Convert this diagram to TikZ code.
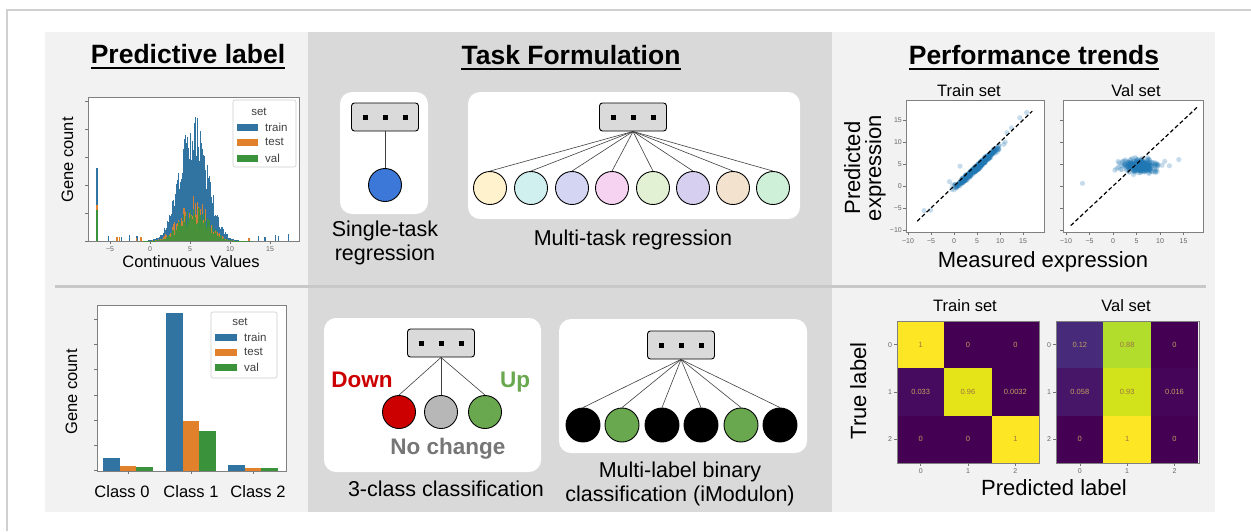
\documentclass[tikz,border=0pt]{standalone}
\usepackage{fontspec}
\setmainfont{Liberation Sans}
\usepackage{tikz}
\usetikzlibrary{positioning, calc}
\definecolor{framegray}{HTML}{D0D0D0}
\definecolor{panelgray}{HTML}{F2F2F2}
\definecolor{midgray}{HTML}{D9D9D9}
\definecolor{sepgray}{HTML}{C8C8C8}
\definecolor{boxgray}{HTML}{DADADA}
\definecolor{histblue}{HTML}{3274A1}
\definecolor{historange}{HTML}{E1812C}
\definecolor{histgreen}{HTML}{3A923A}
\definecolor{scatblue}{HTML}{1F77B4}
\definecolor{singleblue}{HTML}{3C78D8}
\definecolor{downred}{HTML}{CC0000}
\definecolor{samegray}{HTML}{B7B7B7}
\definecolor{sametext}{HTML}{767676}
\definecolor{upgreen}{HTML}{6AA84F}
\definecolor{mtA}{HTML}{FFF2CC}
\definecolor{mtB}{HTML}{D0F0EF}
\definecolor{mtC}{HTML}{D3D5F2}
\definecolor{mtD}{HTML}{F6D3F0}
\definecolor{mtE}{HTML}{E2F0D4}
\definecolor{mtF}{HTML}{D7CFF0}
\definecolor{mtG}{HTML}{F2E2CE}
\definecolor{mtH}{HTML}{CFF0D8}
\definecolor{vir0}{HTML}{440154}
\definecolor{vir016}{HTML}{450559}
\definecolor{vir033}{HTML}{460B5E}
\definecolor{vir058}{HTML}{481668}
\definecolor{vir12}{HTML}{472A7A}
\definecolor{vir88}{HTML}{B2DD2D}
\definecolor{vir93}{HTML}{D2E21B}
\definecolor{vir96}{HTML}{E4E419}
\definecolor{vir100}{HTML}{FDE725}
\definecolor{cmtext}{HTML}{C0A060}
\definecolor{cmtextdark}{HTML}{9A7442}
\tikzset{
  paneltitle/.style={font=\fontsize{26.5}{30}\selectfont\bfseries, inner sep=0pt, anchor=base},
  axislabel/.style={font=\fontsize{16.5}{19}\selectfont, inner sep=0pt, anchor=base},
  biglabel/.style={font=\fontsize{22}{21}\selectfont, inner sep=0pt, anchor=base, align=center},
  tasklabel/.style={font=\fontsize{21.5}{24}\selectfont, inner sep=0pt, align=center},
  classword/.style={font=\fontsize{22.5}{25}\selectfont\bfseries, inner sep=0pt, anchor=base},
  ticklabel/.style={font=\fontsize{7}{8}\selectfont, text=black!60, inner sep=0pt},
  tickmark/.style={draw=black!55, line width=0.6pt},
  plotframe/.style={draw=black!50, line width=0.8pt, fill=white},
  legendbox/.style={draw=black!20, fill=white, fill opacity=0.8, rounded corners=2pt, line width=0.6pt},
  legendtext/.style={font=\fontsize{11.5}{13}\selectfont, text=black!75, inner sep=0pt, anchor=west},
  taskcard/.style={fill=white, rounded corners=12pt},
  dotsbox/.style={draw=black, line width=0.9pt, fill=boxgray, rounded corners=3pt,
                  minimum width=67pt, minimum height=28pt, inner sep=0pt},
  outnode/.style={circle, draw=black, line width=0.9pt, minimum size=33pt, inner sep=0pt},
  link/.style={draw=black!75, line width=0.6pt},
  cmcell/.style={minimum size=47.4pt, inner sep=0pt, font=\fontsize{7.5}{8}\selectfont},
  dot/.style={fill=scatblue, fill opacity=0.25},
}
\newcommand{\threedots}{\rule{5pt}{5pt}\hspace{15pt}\rule{5pt}{5pt}\hspace{15pt}\rule{5pt}{5pt}}

\begin{document}
\begin{tikzpicture}[x=1pt, y=-1pt]
\useasboundingbox (0,0) rectangle (1251,531);
\draw[framegray, line width=2pt] (7,531) -- (7,10) -- (1251,10);
\fill[panelgray] (45,32) rectangle (1215,512);
\fill[midgray] (308,32) rectangle (832,512);
\draw[sepgray, line width=3pt] (55,286) -- (1206,286);

% panel titles
\node[paneltitle] (t1) at (188,63) {Predictive label};
\node[paneltitle] (t2) at (571,64) {Task Formulation};
\node[paneltitle] (t3) at (1034,64) {Performance trends};
\foreach \t in {t1,t2,t3}
  \draw[line width=2.2pt] ([yshift=-5pt]\t.base west) -- ([yshift=-5pt]\t.base east);

% histogram of continuous values
\draw[plotframe] (88,97) rectangle (299,241);
\begin{scope}
\clip (88,97) rectangle (299,241);
\pgfmathsetseed{7}
\foreach \i in {0,...,111}{
  \pgfmathsetmacro{\xv}{-1+0.125*\i}
  \pgfmathsetmacro{\hb}{112*exp(-(\xv-5.4)*(\xv-5.4)/6)*(0.7+0.45*rnd)}
  \fill[histblue] ({150+8*\xv},241) rectangle ++(1.1,-\hb);
}
\foreach \i in {0,...,111}{
  \pgfmathsetmacro{\xv}{-1+0.125*\i}
  \pgfmathsetmacro{\ho}{42*exp(-(\xv-5.3)*(\xv-5.3)/6)*(0.3+0.9*rnd)}
  \fill[historange, opacity=0.9] ({150+8*\xv},241) rectangle ++(1.1,-\ho);
}
\foreach \i in {0,...,111}{
  \pgfmathsetmacro{\xv}{-1+0.125*\i}
  \pgfmathsetmacro{\hg}{32*exp(-(\xv-5.5)*(\xv-5.5)/6)*(0.5+0.7*rnd)}
  \fill[histgreen, opacity=0.9] ({150+8*\xv},241) rectangle ++(1.1,-\hg);
}
\foreach \xv/\hb in {-5.3/5, -3.6/4, -2.6/6, -1.7/5, 13.5/5, 14.3/4, 15.6/6, 16/5, 17.2/7}
  \fill[histblue] ({150+8*\xv},241) rectangle ++(1.2,-\hb);
\foreach \xv/\ho in {-4.2/4, -3.9/4, -1.8/3, -1.2/4, 12.3/3}
  \fill[historange] ({150+8*\xv},241) rectangle ++(1.2,-\ho);
\fill[histblue] (96,241) rectangle ++(2,-73);
\fill[historange] (96,241) rectangle ++(2,-36);
\fill[histgreen] (96,241) rectangle ++(2,-31);
\end{scope}
\foreach \y in {101,129,157,185,213,241}
  \draw[tickmark] (88,\y) -- ++(-3,0);
\foreach \v/\s [count=\n] in {-5/−5, 0/0, 5/5, 10/10, 15/15}{
  \draw[tickmark] ({150+8*\v},241) -- ++(0,3);
  \node[ticklabel] (hx\n) at ({150+8*\v},249) {\s};
}
\draw[legendbox] (233,100) rectangle (296,167);
\node[legendtext, anchor=center] (hset) at (259,112) {set};
\foreach \y/\col/\s in {127/histblue/train, 142/historange/test, 158/histgreen/val}{
  \fill[\col] (237,{\y-3.5}) rectangle (258,{\y+3.5});
  \node[legendtext] (h\s) at (265,\y) {\s};
}
\node[axislabel, rotate=90] (hy) at (73,160) {Gene count};
\node[axislabel] (hxlab) at (191,267) {Continuous Values};

% class counts
\draw[plotframe] (97,305) rectangle (286,471);
\foreach \cx/\hb/\ho/\hg in {128/458/466/467, 191/313/421/431, 253/465/468/468}{
  \fill[histblue] ({\cx-25},471) rectangle ({\cx-8.3},\hb);
  \fill[historange] ({\cx-8.3},471) rectangle ({\cx+8.3},\ho);
  \fill[histgreen] ({\cx+8.3},471) rectangle ({\cx+25},\hg);
  \draw[tickmark] (\cx,471) -- ++(0,3);
}
\foreach \y in {319,344,369,395,420,445,470}
  \draw[tickmark] (97,\y) -- ++(-3,0);
\draw[legendbox] (211,312) rectangle (277,378);
\node[legendtext, anchor=center] (bset) at (240,322) {set};
\foreach \y/\col/\s in {337/histblue/train, 352/historange/test, 367/histgreen/val}{
  \fill[\col] (215,{\y-3.5}) rectangle (237,{\y+3.5});
  \node[legendtext] (b\s) at (244,\y) {\s};
}
\node[axislabel, rotate=90] (by) at (77,392) {Gene count};
\node[axislabel] (cl0) at (122,497) {Class 0};
\node[axislabel] (cl1) at (191,497) {Class 1};
\node[axislabel] (cl2) at (258,497) {Class 2};

% task cards
\fill[taskcard] (340,92) rectangle (428,214);
\fill[taskcard] (468,92) rectangle (800,219);
\fill[taskcard] (324,318) rectangle (541,472);
\fill[taskcard] (559,319) rectangle (807,453);

\node[dotsbox] (stbox) at (385,117) {\threedots};
\node[outnode, fill=singleblue] (stout) at (385,185) {};
\draw[link] (stbox) -- (stout);
\node[tasklabel] (stlab) at (385,243) {Single-task\\regression};

\node[dotsbox] (mtbox) at (633,117) {\threedots};
\foreach \cx/\col [count=\n] in {490/mtA, 531/mtB, 572/mtC, 612/mtD, 653/mtE, 693/mtF, 733/mtG, 773/mtH}{
  \node[outnode, fill=\col] (mt\n) at (\cx,188) {};
  \draw[link] (mtbox.south) -- (mt\n.north);
}
\node[tasklabel, anchor=base] (mtlab) at (633,245) {Multi-task regression};

\node[dotsbox] (ccbox) at (441,343) {\threedots};
\node[outnode, fill=downred] (ccdown) at (399,412) {};
\node[outnode, fill=samegray] (ccsame) at (441,412) {};
\node[outnode, fill=upgreen] (ccup) at (485,412) {};
\foreach \o in {ccdown, ccsame, ccup}
  \draw[link] (ccbox.south) -- (\o.north);
\node[classword, text=downred] (down) at (362,387) {Down};
\node[classword, text=upgreen] (up) at (515,387) {Up};
\node[classword, text=sametext] (same) at (448,454) {No change};
\node[tasklabel, anchor=base] (cclab) at (446,496) {3-class classification};

\node[dotsbox] (mlbox) at (681,345) {\threedots};
\foreach \cx/\col [count=\n] in {583/black, 622/upgreen, 662/black, 701/black, 741/upgreen, 780/black}{
  \node[outnode, fill=\col, minimum size=34pt] (ml\n) at (\cx,425) {};
  \draw[link] (mlbox.south) -- (ml\n.north);
}
\node[tasklabel] (mllab) at (680,484) {Multi-label binary\\classification (iModulon)};

% predicted vs measured
\draw[plotframe] (906,100) rectangle (1044,232);
\begin{scope}
\clip (906,100) rectangle (1044,232);
\pgfmathsetseed{11}
\foreach \k in {1,...,420}{
  \pgfmathsetmacro{\mx}{5+2.2*(rand+rand+rand)}
  \pgfmathsetmacro{\my}{0.96*\mx-0.6+0.4*(rand+rand)}
  \fill[dot] ({954+4.6*\mx},{186-4.4*\my}) circle (2.6);
}
\foreach \mx/\my in {-6.5/-5.6, -5.1/-5.5, 1.3/4.5, -1/1, -0.3/0.2, 14.3/15.5, 15.8/16.7, 12.5/13.2, 11.5/12.1}
  \fill[dot] ({954+4.6*\mx},{186-4.4*\my}) circle (2.6);
\draw[line width=1.2pt, dash pattern=on 4pt off 2.5pt] ({954-4.6*8},{186+4.4*8}) -- ({954+4.6*17},{186-4.4*17});
\end{scope}
\draw[plotframe] (1063,100) rectangle (1203,232);
\begin{scope}
\clip (1063,100) rectangle (1203,232);
\foreach \k in {1,...,300}{
  \pgfmathsetmacro{\mx}{5.6+1.8*(rand+rand+rand)}
  \pgfmathsetmacro{\my}{4.6+0.75*(rand+rand+rand)}
  \fill[dot] ({1113+4.7*\mx},{186-4.4*\my}) circle (2.6);
}
\foreach \mx/\my in {-6.5/0.6, 14/6, 0.8/4, 0.4/3.6, 11/5.6, 12/4.6}
  \fill[dot] ({1113+4.7*\mx},{186-4.4*\my}) circle (2.6);
\draw[line width=1.2pt, dash pattern=on 4pt off 2.5pt] ({1113-4.7*9},{186+4.4*9}) -- ({1113+4.7*18},{186-4.4*18});
\end{scope}
\foreach \v/\s [count=\n] in {-10/−10, -5/−5, 0/0, 5/5, 10/10, 15/15}{
  \draw[tickmark] ({954+4.6*\v},232) -- ++(0,3);
  \node[ticklabel] (tx\n) at ({954+4.6*\v},241) {\s};
  \draw[tickmark] ({1113+4.7*\v},232) -- ++(0,3);
  \node[ticklabel] (vx\n) at ({1113+4.7*\v},241) {\s};
  \draw[tickmark] (906,{186-4.4*\v}) -- ++(-3,0);
  \node[ticklabel, anchor=east] (ty\n) at (902,{186-4.4*\v}) {\s};
  \draw[tickmark] (1063,{186-4.4*\v}) -- ++(-3,0);
}
\node[axislabel] (trtitle) at (969,96) {Train set};
\node[axislabel] (vatitle) at (1136,96) {Val set};
\node[biglabel, rotate=90, anchor=center] (predexp) at (865,168) {Predicted\\expression};
\node[biglabel] (measexp) at (1043,267) {Measured expression};

% confusion matrices
\foreach \r/\c/\col/\tc/\val in {0/0/vir100/cmtextdark/1, 0/1/vir0/cmtext/0, 0/2/vir0/cmtext/0,
    1/0/vir033/cmtext/0.033, 1/1/vir96/cmtextdark/0.96, 1/2/vir0/cmtext/0.0032,
    2/0/vir0/cmtext/0, 2/1/vir0/cmtext/0, 2/2/vir100/cmtextdark/1}
  \node[cmcell, fill=\col, text=\tc] (tr\r\c) at ({920.7+47.33*\c},{344.7+47.33*\r}) {\val};
\foreach \r/\c/\col/\tc/\val in {0/0/vir12/cmtext/0.12, 0/1/vir88/cmtextdark/0.88, 0/2/vir0/cmtext/0,
    1/0/vir058/cmtext/0.058, 1/1/vir93/cmtextdark/0.93, 1/2/vir016/cmtext/0.016,
    2/0/vir0/cmtext/0, 2/1/vir100/cmtextdark/1, 2/2/vir0/cmtext/0}
  \node[cmcell, fill=\col, text=\tc] (va\r\c) at ({1079.8+47.33*\c},{344.7+47.33*\r}) {\val};
\draw[plotframe, fill=none] (897,321) rectangle (1039,463);
\draw[plotframe, fill=none] (1056,321) rectangle (1199,463);
\foreach \k in {0,1,2}{
  \draw[tickmark] ({920.7+47.33*\k},463) -- ++(0,3);
  \node[ticklabel] (tcx\k) at ({920.7+47.33*\k},471) {\k};
  \draw[tickmark] ({1079.8+47.33*\k},463) -- ++(0,3);
  \node[ticklabel] (vcx\k) at ({1079.8+47.33*\k},471) {\k};
  \draw[tickmark] (897,{344.7+47.33*\k}) -- ++(-3,0);
  \node[ticklabel] (tcy\k) at (890,{344.7+47.33*\k}) {\k};
  \draw[tickmark] (1056,{344.7+47.33*\k}) -- ++(-3,0);
  \node[ticklabel] (vcy\k) at (1049,{344.7+47.33*\k}) {\k};
}
\node[axislabel] (cmtrain) at (965,311) {Train set};
\node[axislabel] (cmval) at (1126,311) {Val set};
\node[biglabel, rotate=90] (truelab) at (866,391) {True label};
\node[biglabel] (predlab) at (1054,495) {Predicted label};
\end{tikzpicture}
\end{document}
